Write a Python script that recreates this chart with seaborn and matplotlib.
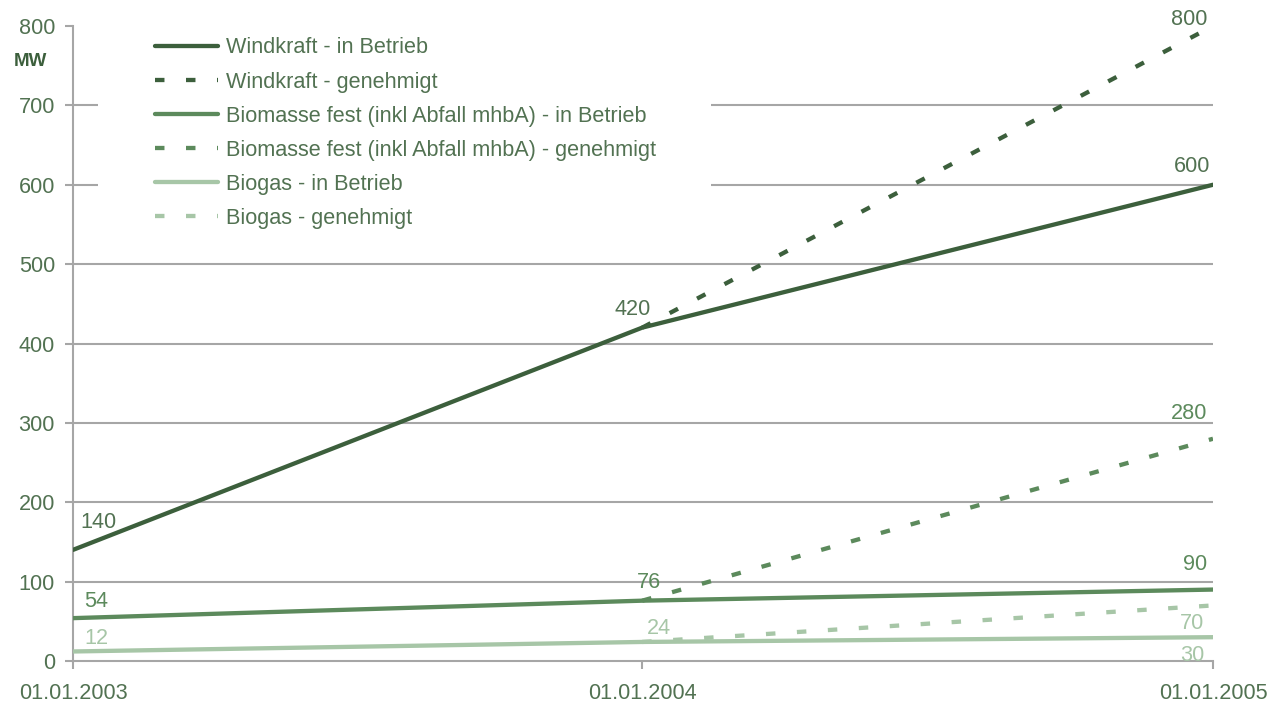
import matplotlib
matplotlib.use("Agg")
import matplotlib.pyplot as plt
from matplotlib.patches import Rectangle
import seaborn as sns
import pandas as pd

# ---- data ----
dates = ["2003-01-01", "2004-01-01", "2005-01-01"]
tick_labels = ["01.01.2003", "01.01.2004", "01.01.2005"]

wind_betrieb = [140, 420, 600]
wind_genehmigt = [None, 420, 800]
bio_betrieb = [54, 76, 90]
bio_genehmigt = [None, 76, 280]
biogas_betrieb = [12, 24, 30]
biogas_genehmigt = [None, 24, 70]

series_names = [
    "Windkraft - in Betrieb",
    "Windkraft - genehmigt",
    "Biomasse fest (inkl Abfall mhbA) - in Betrieb",
    "Biomasse fest (inkl Abfall mhbA) - genehmigt",
    "Biogas - in Betrieb",
    "Biogas - genehmigt",
]
series_values = [wind_betrieb, wind_genehmigt, bio_betrieb,
                 bio_genehmigt, biogas_betrieb, biogas_genehmigt]

# ---- styles ----
C_DARK = "#3c5f3c"
C_MED = "#5c8a5c"
C_LIGHT = "#a7c6a7"
TEXT = "#527252"
GRID = "#a6a6a6"
palette = dict(zip(series_names, [C_DARK, C_DARK, C_MED, C_MED, C_LIGHT, C_LIGHT]))
DASH = (2.2, 5.0)
dashes = dict(zip(series_names, ["", DASH, "", DASH, "", DASH]))
FS = 15.6

rows = []
for name, vals in zip(series_names, series_values):
    for d, v in zip(dates, vals):
        if v is not None:
            rows.append({"Datum": pd.Timestamp(d), "MW": v, "Serie": name})
df = pd.DataFrame(rows)

sns.set_theme(style="white")
plt.rcParams["font.family"] = ["Liberation Sans", "DejaVu Sans"]

fig = plt.figure(figsize=(12.79, 7.06), dpi=100)
ax = fig.add_axes([73 / 1279, 1 - 661 / 706, 1140 / 1279, 635 / 706])

sns.lineplot(data=df, x="Datum", y="MW", hue="Serie", style="Serie",
             hue_order=series_names, style_order=series_names,
             palette=palette, dashes=dashes, linewidth=3.1, ax=ax,
             zorder=3)

ax.set_xlim(pd.Timestamp(dates[0]), pd.Timestamp(dates[-1]))
ax.set_ylim(0, 800)
ax.set_yticks(range(0, 801, 100))
ax.set_xticks([pd.Timestamp(d) for d in dates])
ax.set_xticklabels(tick_labels)
ax.set_xlabel("")
ax.set_ylabel("")

for s in ["top", "right"]:
    ax.spines[s].set_visible(False)
for s in ["left", "bottom"]:
    ax.spines[s].set_color(GRID)
    ax.spines[s].set_linewidth(1.5)

ax.yaxis.grid(True, color=GRID, linewidth=1.5)
ax.set_axisbelow(True)
ax.get_ygridlines()[-1].set_visible(False)
ax.get_ygridlines()[0].set_visible(False)

ax.tick_params(axis="both", which="both", labelsize=FS, labelcolor=TEXT,
               color=GRID, width=1.5, length=6, direction="out",
               left=True, bottom=True)
ax.tick_params(axis="y", pad=7)
ax.tick_params(axis="x", pad=10)

# white box behind legend
ax.add_patch(Rectangle((0.022, 0.66), 0.538, 0.335, transform=ax.transAxes,
                       facecolor="white", edgecolor="none", zorder=1))

handles, labels = ax.get_legend_handles_labels()
leg = ax.legend(handles, labels, loc="upper left",
                bbox_to_anchor=(0.072, 0.982), frameon=False,
                fontsize=FS, handlelength=2.9, handletextpad=0.37,
                labelspacing=0.605, borderpad=0, borderaxespad=0)
for t in leg.get_texts():
    t.set_color(TEXT)
for h in leg.get_lines():
    h.set_linewidth(3.1)

fig.text(30 / 1279, 1 - 62 / 706, "MW", fontsize=13.5, fontweight="bold",
         color=C_DARK, ha="center", va="center")

# data labels (value, date index, color, offset in points)
annot = [
    (wind_betrieb[0], 0, TEXT, (18, 20)),
    (bio_betrieb[0], 0, C_MED, (17, 12)),
    (biogas_betrieb[0], 0, C_LIGHT, (17, 9)),
    (wind_betrieb[1], 1, TEXT, (-7, 13)),
    (bio_betrieb[1], 1, C_MED, (5, 13)),
    (biogas_betrieb[1], 1, C_LIGHT, (12, 10)),
    (wind_genehmigt[2], 2, TEXT, (-17, 5)),
    (wind_betrieb[2], 2, TEXT, (-15, 13)),
    (bio_genehmigt[2], 2, C_MED, (-17, 18)),
    (bio_betrieb[2], 2, C_MED, (-13, 18)),
    (biogas_genehmigt[2], 2, C_LIGHT, (-15, -13)),
    (biogas_betrieb[2], 2, C_LIGHT, (-15, -13)),
]
for val, i, col, off in annot:
    ax.annotate(str(val), (pd.Timestamp(dates[i]), val), xytext=off,
                textcoords="offset points", ha="center", va="center",
                fontsize=FS, color=col, annotation_clip=False, zorder=4)

fig.savefig("out.png", dpi=100)
